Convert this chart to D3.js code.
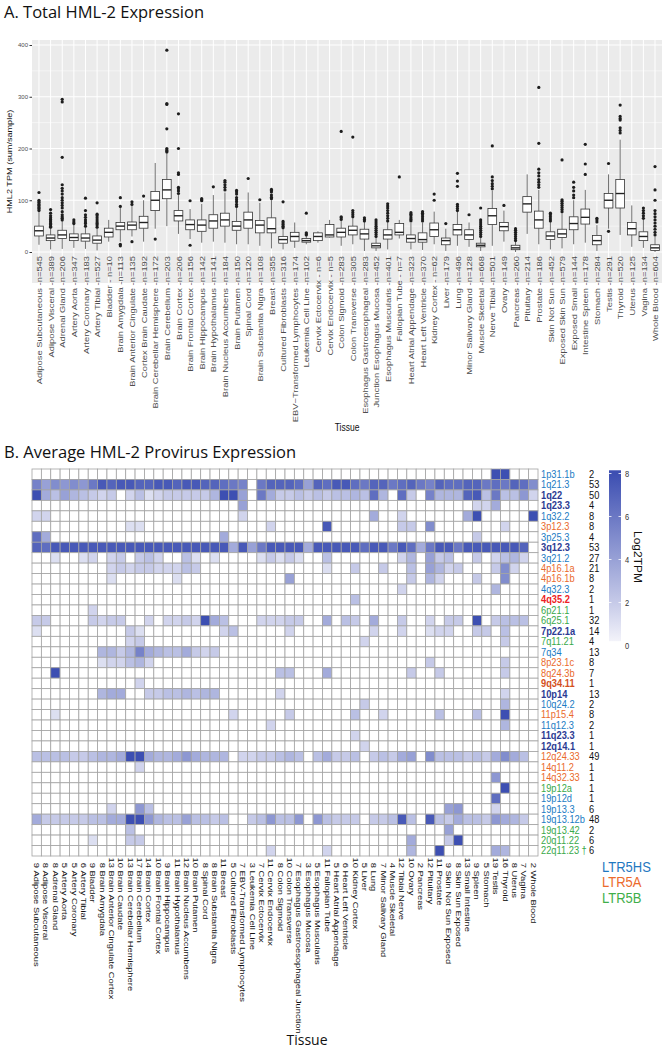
<!DOCTYPE html>
<html>
<head>
<meta charset="utf-8">
<script src="https://cdn.jsdelivr.net/npm/d3@7/dist/d3.min.js"></script>
<style>
  html, body { margin: 0; padding: 0; background: #ffffff; }
  svg { display: block; }
</style>
</head>
<body>
<script>
// ====================== DATA ======================
const tissues = ["Adipose Subcutaneous","Adipose Visceral","Adrenal Gland","Artery Aorta","Artery Coronary","Artery Tibial","Bladder","Brain Amygdala","Brain Anterior Cingulate Cortex","Brain Caudate","Brain Cerebellar Hemisphere","Brain Cerebellum","Brain Cortex","Brain Frontal Cortex","Brain Hippocampus","Brain Hypothalamus","Brain Nucleus Accumbens","Brain Putamen","Spinal Cord","Brain Substantia Nigra","Breast","Cultured Fibroblasts","EBV-Transformed Lymphocytes","Leukemia Cell Line","Cervix Ectocervix","Cervix Endocervix","Colon Sigmoid","Colon Transverse","Esophagus Gastroesophageal Junction","Esophagus Mucosa","Esophagus Muscularis","Fallopian Tube","Heart Atrial Appendage","Heart Left Ventricle","Kidney Cortex","Liver","Lung","Minor Salivary Gland","Muscle Skeletal","Tibial Nerve","Ovary","Pancreas","Pituitary","Prostate","Skin Not Sun Exposed","Skin Sun Exposed","Small Intestine","Spleen","Stomach","Testis","Thyroid","Uterus","Vagina","Whole Blood"];

const tissueAxisLabels = ["Adipose Subcutaneous -n=545","Adipose Visceral -n=389","Adrenal Gland -n=206","Artery Aorta -n=347","Artery Coronary -n=183","Artery Tibial -n=527","Bladder - n=10","Brain Amygdala -n=113","Brain Anterior Cingulate -n=135","Cortex Brain Caudate -n=192","Brain Cerebellar Hemisphere -n=172","Brain Cerebellum -n=203","Brain Cortex -n=206","Brain Frontal Cortex -n=156","Brain Hippocampus -n=142","Brain Hypothalamus -n=141","Brain Nucleus Accumbens -n=184","Brain Putamen -n=150","Spinal Cord -n=120","Brain Substantia Nigra -n=108","Breast -n=355","Cultured Fibroblasts -n=316","EBV\u2212Transformed Lymphocytes -n=174","Leukemia Cell Line -n=102","Cervix Ectocervix - n=6","Cervix Endocervix - n=5","Colon Sigmoid -n=283","Colon Transverse -n=305","Esophagus Gastroesophageal -n=283","Junction Esophagus Mucosa -n=452","Esophagus Muscularis -n=401","Fallopian Tube - n=7","Heart Atrial Appendage -n=323","Heart Left Ventricle -n=370","Kidney Cortex - n=62","Liver -n=179","Lung -n=496","Minor Salivary Gland -n=128","Muscle Skeletal -n=668","Nerve Tibial -n=501","Ovary -n=149","Pancreas -n=260","Pituitary -n=214","Prostate -n=186","Skin Not Sun -n=452","Exposed Skin Sun -n=579","Exposed Small -n=144","Intestine Spleen -n=178","Stomach -n=284","Testis -n=291","Thyroid -n=520","Uterus -n=125","Vagina -n=134","Whole Blood -n=604"];

// Boxplot statistics (HML2 TPM sum/sample)
const whiskerLow  = [14,5,6,8,6,3,20,20,30,20,45,50,35,25,18,20,18,15,15,12,7,5,8,15,18,28,12,15,2,2,5,26,5,4,15,2,12,10,2,12,20,0,35,15,5,7,15,18,2,45,33,10,8,0];
const q1          = [31,22,26,22,21,17,29,43,43,46,80,103,60,43,40,46,50,42,46,37,37,17,21,19,22,29,29,33,25,8,25,33,19,19,30,14,33,24,10,53,41,4.5,77,46,24,28,43,54,14,85,85,33,22,3];
const median      = [41,27,33,28,27,23,38,50,52,57,100,120,70,53,52,60,62,50,62,52,45,24,30,22,30,33,38,42,35,12,33,38,26,24,43,22,43,33,13,70,49,8,93,62,31,35,55,67,22,100,113,45,30,8];
const q3          = [50,33,42,35,35,31,46,57,58,69,117,140,80,62,62,72,75,59,77,61,66,30,38,26,37,53,46,50,44,17,43,55,33,37,56,27,53,43,17,84,57,13,107,79,39,44,68,83,32,113,140,57,39,14];
const whiskerHigh = [77,47,60,53,48,46,62,85,90,100,172,190,110,83,93,110,115,85,115,95,100,45,57,32,40,62,60,65,58,28,58,62,56,57,78,45,78,57,28,118,80,20,150,120,58,75,100,120,52,150,217,90,62,30];
const outliers = [
  [80,83,85,87,90,92,95,97,100,115],
  [48,50,53,55,58,60,63,66,70,75,82],
  [62,65,68,72,78,85,90,95,100,105,112,118,123,130,183,290,295],
  [55,58,62],
  [50,55,58,62,67,72,80,104],
  [48,52,55,58,62,66,70,73,95],
  [],
  [88,105,12,15],
  [92,97,20],
  [108],
  [25],
  [193,195,197,200,238,285,287,390],
  [113,118,122,125,150,153,200,267],
  [99,13],
  [99,101,103],
  [126],
  [120,125,130,135,138],
  [88,92,97,101,105,112,116,119],
  [142],
  [101],
  [103,106,110,116,119,121],
  [47,50,53,56,59,97],
  [],
  [33,35,37,75],
  [],
  [],
  [63,66,68,233],
  [68,72,76,80,222],
  [60,63,66],
  [30,34,38,42,46,50,54,58,62],
  [60,65,70,75,80,85,89,93],
  [145],
  [60,63,66,70,73,76],
  [60,64,68,72,75,78],
  [100,112],
  [55],
  [80,84,88,92,127,137,152],
  [72],
  [30,34,38,42,46,50,54,58,62,85],
  [122,127,132,138,145,205],
  [90],
  [22,26,30,34,38,42,45],
  [],
  [125,130,135,140,147,153,160,210,318],
  [60,64,68,72,75],
  [78,82,86,90,94,98,101,178],
  [105,110,118,125,135],
  [150,170,208],
  [58,62,65],
  [171,40],
  [230,235,240,255,258,262,284],
  [],
  [65,70,75,80,85],
  [33,38,44,50,56,62,68,74,80,100,120,165]
];
const yTicksA = [0, 100, 200, 300, 400];
const yMinorA = [50, 150, 250, 350];

// Heatmap
const proviruses = ["1p31.1b","1q21.3","1q22","1q23.3","1q32.2","3p12.3","3p25.3","3q12.3","3q21.2","4p16.1a","4p16.1b","4q32.3","4q35.2","6p21.1","6q25.1","7p22.1a","7q11.21","7q34","8p23.1c","8q24.3b","9q34.11","10p14","10q24.2","11p15.4","11q12.3","11q23.3","12q14.1","12q24.33","14q11.2","14q32.33","19p12a","19p12d","19p13.3","19q13.12b","19q13.42","20q11.22","22q11.23"];
const provirusGroups = ["HS","HS","HSb","HSb","HS","A","HS","HSb","HS","A","A","HS","Ar","B","B","HSb","B","HS","A","A","Ab","HSb","HS","A","HS","HSb","HSb","A","A","A","B","HS","HS","HS","B","B","B"];
const provirusTissueCounts = [2,53,50,4,8,8,4,53,27,21,8,2,1,1,32,14,4,13,8,7,1,13,2,8,2,1,1,49,1,1,1,1,6,48,2,6,6];
const tissueProvirusCounts = [9,8,8,5,5,6,9,8,13,10,13,17,14,10,9,11,12,10,8,8,11,5,7,3,7,11,8,10,7,3,5,11,5,6,10,5,8,7,4,12,10,2,12,11,9,8,13,9,5,19,16,8,7,2];
// log2 TPM, 0 = not expressed (rows = proviruses, columns = tissues)
const heatValues = [
 [0,0,0,0,0,0,0,0,0, 0,0,0,0,0,0,0,0,0, 0,0,0,0,0,0,0,0,0, 0,0,0,0,0,0,0,0,0, 0,0,0,0,0,0,0,0,0, 0,0,0,0,8,8,0,0,0],
 [5.5,4,5,4.5,5,4.5,6,7.5,7, 7.5,7.5,7,7,7.5,7.5,7,7.5,7.5, 7,7,6.5,6,5.5,0,6,7,7, 7,6.5,4,7,6.5,7.5,7.5,6.5,6, 7,7,6,6.5,7,6,5.5,7,6.5, 6.5,7,7,6,6.5,6,7,6.5,5],
 [8,3.5,2.5,4,3,2.5,2,1.5,2, 0,1.5,2.5,1,1.5,2,2,2,2, 2,3,8,8,4,0,6,3.5,2, 2,2.5,2,2.5,2,2.5,2.5,3,2.5, 6.5,3,0,6.5,2,0,5.5,3,3, 3,7,7.5,2.5,6,2.5,2.5,4.5,1.5],
 [0,0,0,0,0,0,0,0,0, 0,0,0,0,0,0,0,0,0, 0,0,0,0,4,0,0,0,0, 0,0,0,0,0,0,0,0,0, 0,0,0,0,0,0,0,0,0, 0,0,1.5,1.5,3.5,0,0,0,0],
 [1.5,1.5,0,0,0,0,0,0,0, 0,0,0,0,0,0,0,0,0, 0,0,0,0,1.5,0,0,0,0, 0,0,0,0,0,0,0,0,0, 3.5,0,0,1.5,0,0,0,0,0, 0,3.5,8,0,0,0,0,0,8],
 [0,0,0,0,0,0,0,0,0, 0,1,1,0,0,0,0,0,0, 0,0,0,0,0,0,0,1.5,0, 0,0,0,0,7.5,0,0,0,0, 0,0,0,2,2,0,5,0,0, 0,0,0,0,0,1.5,0,0,0],
 [6.5,3.5,0,0,0,0,0,0,0, 0,0,0,0,0,0,0,0,0, 0,0,3.5,0,0,0,0,0,0, 0,0,0,0,0,0,0,0,0, 0,0,0,0,0,0,0,0,0, 0,0,2,0,0,0,0,0,0],
 [7,6.5,7.5,7.5,7.5,7.5,7.5,7.5,7.5, 7.5,7.5,7.5,7.5,7.5,7.5,7.5,7.5,7.5, 7.5,7.5,7.5,3.5,7.5,4,6,7.5,7.5, 7.5,7.5,3.5,7.5,7.5,7.5,7.5,7.5,6.5, 7.5,7.5,6,7.5,6.5,3.5,6,7.5,7.5, 6,7.5,7.5,7.5,7.5,7.5,7.5,7,0],
 [0,0,1,0,0,1,1.5,0,1.5, 2,0,2,2.5,1.5,0,0,2.5,1, 0,1,0,0,0,0,1,2,1, 2,1,0,0,2.5,0,0,0,0, 0,0,0,1.5,3,0,4,2,2.5, 0,0,2,0,1.5,2.5,3,1.5,0],
 [0,0,0,0,0,0,0,0,1.5, 2,1.5,2,2,1.5,1.5,1.5,2.5,2, 0,0,0,0,0,0,0,0,0, 0,0,0,0,1,0,0,2,0, 0,2,0,0,2.5,0,4,3,1.5, 2,0,0,0,2,5,1.5,0,0],
 [0,0,0,0,0,0,0,0,1, 0,0,0,0,0,0,1,0,0, 0,0,0,0,0,0,0,0,0, 4,0,0,0,0,0,0,0,0, 0,0,0,0,2,0,3,1.5,0, 0,0,2,0,0,5,0,0,0],
 [0,0,0,0,0,0,0,0,0, 0,0,0,0,0,0,0,0,0, 0,0,0,0,0,0,0,0,0, 0,0,0,0,0,0,0,0,0, 0,0,0,1.5,0,0,0,0,0, 0,0,0,0,3,0,0,0,0],
 [0,0,0,0,0,0,0,0,0, 0,0,0,0,0,0,0,0,0, 0,0,0,0,0,0,0,0,0, 0,0,0,0,0,0,0,2.5,0, 0,0,0,0,0,0,0,0,0, 0,0,0,0,0,0,0,0,0],
 [0,0,0,0,0,0,1.5,0,0, 0,0,0,0,0,0,0,0,0, 0,0,0,0,0,0,0,0,0, 0,0,0,0,0,0,0,0,0, 0,0,0,0,0,0,0,0,0, 0,0,0,0,0,0,0,0,0],
 [2,2,0,0,0,0,2,1.5,2, 2,0,0,1.5,0,1.5,1.5,2,1.5, 8,3.5,2.5,0,0,0,1.5,1.5,1.5, 2,2,0,0,3.5,0,2.5,2,0, 3.5,0,0,2,0,0,1.5,0,2, 2,0,8,0,2,2.5,2.5,2.5,0],
 [1,0,0,0,0,0,0,0,0, 0,2,1,0,0,0,0,0,0, 0,0,1.5,2.5,0,0,0,0,0, 1.5,0,0,0,0,0,0,0,0, 1.5,0,0,1.5,0,0,1,1.5,1.5, 0,0,2,2,0,2.5,0,0,0],
 [0,0,0,0,0,0,0,0,0, 0,1.5,2,0,0,0,0,0,0, 0,0,0,0,0,0,0,0,0, 0,0,0,0,0,0,0,0,1.5, 0,0,0,0,0,0,0,0,0, 0,0,0,0,0,2,0,0,0],
 [0,0,0,0,0,0,0,3,3, 2,3,5.5,3.5,3,2.5,2.5,3.5,2, 1.5,2,0,0,0,0,0,0,0, 0,0,0,0,0,0,0,0,0, 0,0,0,0,0,0,0,0,0, 0,0,0,0,0,0,0,0,0],
 [0,0,0,0,0,0,0,1,1.5, 1.5,2.5,3,1.5,0,0,0,0,0, 0,0,0,0,0,0,0,0,0, 0,0,0,0,0,0,0,0,0, 0,0,0,0,0,0,2,0,0, 0,0,0,0,0,2,0,0,0],
 [0,0,8,0,0,0,0,0,0, 0,0,0,0,0,0,0,0,0, 0,0,0,0,0,0,0,0,2.5, 2.5,0,0,0,3.5,0,0,0,0, 0,0,0,0,2,0,0,2,0, 0,0,0,0,0,2,0,0,0],
 [0,0,0,0,0,0,0,0,0, 0,0,1.5,0,0,0,0,0,0, 0,0,0,0,0,0,0,0,0, 0,0,0,0,0,0,0,0,0, 0,0,0,0,0,0,0,0,0, 0,0,0,0,0,0,0,0,0],
 [0,0,0,0,0,0,0,3,3.5, 3.5,0,0,2,2,2.5,2.5,3,2.5, 3,3,0,0,0,0,0,0,1.5, 0,0,0,0,0,0,0,0,0, 0,0,0,0,0,0,0,0,0, 0,0,0,0,0,1.5,0,0,0],
 [0,0,0,0,0,0,0,0,0, 0,0,0,0,0,0,0,0,0, 0,0,0,0,0,0,0,0,0, 0,0,0,0,0,0,0,0,2, 0,0,0,0,0,0,0,0,0, 0,0,0,0,0,3,0,0,0],
 [0,0,1,0,0,0,0,0,0, 0,0,0,0,0,0,0,0,0, 0,0,0,1.5,0,0,0,0,0, 2,0,0,0,0,0,0,2.5,0, 0,1.5,0,0,0,0,0,2.5,0, 0,0,2.5,0,0,8,0,0,0],
 [0,0,0,0,0,0,0,0,0, 0,0,0,0,0,0,0,0,0, 0,0,0,0,0,0,0,1.5,0, 0,0,0,0,0,0,0,0,0, 0,0,0,0,0,0,0,0,0, 0,0,0,0,0,3,0,0,0],
 [0,0,0,0,0,0,0,0,0, 0,0,0,0,0,0,0,0,0, 0,0,0,0,0,0,0,0,0, 0,0,0,0,0,0,0,1.5,0, 0,0,0,0,0,0,0,0,0, 0,0,0,0,0,0,0,0,0],
 [0,0,0,0,0,0,0,0,0, 0,0,0,0,0,0,0,0,0, 0,0,0,0,0,0,0,0,0, 0,0,0,0,0,0,0,0,1.5, 0,0,0,0,0,0,0,0,0, 0,0,0,0,0,0,0,0,0],
 [2.5,2.5,2.5,2.5,2,2,2.5,3,3, 3.5,8,8,3.5,3,3,3.5,4.5,3.5, 3,3,3,0,1.5,1.5,2,2,2.5, 3,2.5,0,2.5,3.5,2,2,2.5,0, 2,2.5,2,3.5,4,0,5,2.5,2.5, 2.5,2,2.5,2,3.5,5,3.5,2.5,0],
 [0,0,0,0,0,0,0,0,0, 0,0,1.5,0,0,0,0,0,0, 0,0,0,0,0,0,0,0,0, 0,0,0,0,0,0,0,0,0, 0,0,0,0,0,0,0,0,0, 0,0,0,0,0,0,0,0,0],
 [0,0,0,0,0,0,0,0,0, 0,0,0,0,0,0,0,0,0, 0,0,0,0,0,0,0,0,0, 0,0,0,0,0,0,0,0,0, 0,0,0,0,0,0,0,0,0, 0,0,0,0,4.5,0,0,0,0],
 [0,0,0,0,0,0,0,0,0, 0,0,0,0,0,0,0,0,0, 0,0,0,0,0,0,0,0,0, 0,0,0,0,0,0,0,0,0, 0,0,0,0,0,0,0,0,0, 0,0,0,0,0,8,0,0,0],
 [0,0,0,0,0,0,0,0,0, 0,0,0,0,0,0,0,0,0, 0,0,0,0,0,0,0,0,0, 0,0,0,0,0,0,0,0,0, 0,0,0,0,0,0,0,0,0, 0,0,0,0,6.5,0,0,0,0],
 [0,0,0,0,0,0,0,0,1.5, 0,0,4.5,2.5,0,0,0,0,0, 0,0,0,0,0,0,0,0,0, 0,0,0,0,0,0,0,0,0, 0,0,0,0,0,0,0,0,4, 4.5,0,0,0,1.5,0,0,0,0],
 [3.5,2,2,2,2,2,2.5,2.5,3.5, 3.5,8,8,4.5,3,2.5,2.5,4,2.5, 2.5,2,2.5,0,0,2,2.5,4.5,2.5, 2.5,4.5,0,4.5,2.5,2,2,2,0, 2,2,2.5,7.5,2.5,0,7.5,2.5,2, 3.5,2.5,2.5,2,4.5,3.5,3,2,0],
 [0,0,0,0,0,0,0,0,0, 0,2.5,0,0,0,0,0,0,0, 0,0,0,0,0,0,0,0,0, 0,0,0,0,0,0,0,0,0, 0,0,0,0,0,0,0,0,4, 0,0,0,0,0,0,0,0,0],
 [0,0,0,0,0,0,1,0,0, 0,2,2,0,0,0,0,0,0, 0,0,0,0,0,0,0,0,0, 0,0,0,0,0,0,0,0,0, 0,0,0,0,3.5,0,0,0,2, 8,0,0,0,0,0,0,0,0],
 [0,0,0,0,0,0,0,0,0, 0,0,0,0,0,0,0,0,0, 0,0,0,0,0,0,0,1.5,0, 0,0,0,0,1.5,0,0,0,0, 0,0,0,0,3,0,0,8,0, 0,0,0,0,3.5,3,0,0,0]
];
const legendTicks = [0, 2, 4, 6, 8];
const ltrFamilies = ["LTR5HS", "LTR5A", "LTR5B"];

// ====================== STYLE ======================
const SANS = "'Liberation Sans', Arial, Helvetica, sans-serif";
const TITLE = "'Open Sans', 'Noto Sans', sans-serif";
const STRETCH = 1.25;
const ROW_STRETCH = 1.12;
const groupStyle = {
  HS:  { fill: "#1b7cc4", weight: "normal" },
  HSb: { fill: "#2c3b93", weight: "bold" },
  A:   { fill: "#ea6a2c", weight: "normal" },
  Ab:  { fill: "#d4501c", weight: "bold" },
  Ar:  { fill: "#ee1d25", weight: "bold" },
  B:   { fill: "#39a94a", weight: "normal" }
};
const ltrColors = ["#1f78c1", "#ec6a2c", "#3fae49"];

const svg = d3.select("body").append("svg").attr("width", 663).attr("height", 1049);

// ====================== PANEL A ======================
svg.append("text").attr("x", 4).attr("y", 17.8)
  .style("font-family", TITLE).style("font-size", "16.5px").attr("fill", "#111")
  .text("A. Total HML-2 Expression");

const pA = { left: 32, right: 662, top: 40, bottom: 283 };
const xA = d3.scalePoint().domain(d3.range(tissues.length)).range([pA.left, pA.right]).padding(0.6);
const yA = d3.scaleLinear().domain([0, 400]).range([252, 45]);
const gA = svg.append("g");

gA.append("rect").attr("x", pA.left).attr("y", pA.top)
  .attr("width", pA.right - pA.left).attr("height", pA.bottom - pA.top).attr("fill", "#EBEBEB");
gA.selectAll("line.minor").data(yMinorA).join("line").attr("class", "minor")
  .attr("x1", pA.left).attr("x2", pA.right).attr("y1", d => yA(d)).attr("y2", d => yA(d))
  .attr("stroke", "#fff").attr("stroke-width", 0.5);
gA.selectAll("line.major").data(yTicksA).join("line").attr("class", "major")
  .attr("x1", pA.left).attr("x2", pA.right).attr("y1", d => yA(d)).attr("y2", d => yA(d))
  .attr("stroke", "#fff").attr("stroke-width", 1);
gA.selectAll("line.vmajor").data(xA.domain()).join("line").attr("class", "vmajor")
  .attr("x1", d => xA(d)).attr("x2", d => xA(d)).attr("y1", pA.top).attr("y2", pA.bottom)
  .attr("stroke", "#fff").attr("stroke-width", 1);

const boxW = xA.step() * 0.75;
const boxes = gA.selectAll("g.box").data(xA.domain()).join("g").attr("class", "box");
boxes.append("line").attr("x1", d => xA(d)).attr("x2", d => xA(d))
  .attr("y1", d => yA(whiskerHigh[d])).attr("y2", d => yA(q3[d]))
  .attr("stroke", "#333").attr("stroke-width", 0.7);
boxes.append("line").attr("x1", d => xA(d)).attr("x2", d => xA(d))
  .attr("y1", d => yA(q1[d])).attr("y2", d => yA(whiskerLow[d]))
  .attr("stroke", "#333").attr("stroke-width", 0.7);
boxes.append("rect").attr("x", d => xA(d) - boxW / 2).attr("width", boxW)
  .attr("y", d => yA(q3[d])).attr("height", d => yA(q1[d]) - yA(q3[d]))
  .attr("fill", "#fff").attr("stroke", "#333").attr("stroke-width", 0.8);
boxes.append("line").attr("x1", d => xA(d) - boxW / 2).attr("x2", d => xA(d) + boxW / 2)
  .attr("y1", d => yA(median[d])).attr("y2", d => yA(median[d]))
  .attr("stroke", "#222").attr("stroke-width", 1.4);
boxes.selectAll("circle").data(d => outliers[d].map(v => ({ i: d, v }))).join("circle")
  .attr("cx", o => xA(o.i)).attr("cy", o => yA(o.v)).attr("r", 1.6).attr("fill", "#1e1e1e");

// y axis
const yAxisA = svg.append("g").attr("transform", `translate(${pA.left},0)`)
  .call(d3.axisLeft(yA).tickValues(yTicksA).tickSize(2.5).tickPadding(1.5));
yAxisA.select(".domain").remove();
yAxisA.selectAll(".tick line").attr("stroke", "#333");
yAxisA.selectAll(".tick text").attr("fill", "#4d4d4d").style("font-family", SANS).style("font-size", "6px");

// x axis labels
const xAxisA = svg.append("g").attr("transform", "translate(0,256)")
  .call(d3.axisBottom(xA).tickSize(0).tickFormat(d => tissueAxisLabels[d]));
xAxisA.select(".domain").remove();
xAxisA.selectAll(".tick text")
  .attr("x", 0).attr("y", 0).attr("dy", "0.35em")
  .attr("transform", `scale(1,${STRETCH}) rotate(-90)`)
  .style("text-anchor", "end").attr("fill", "#4d4d4d")
  .style("font-family", SANS).style("font-size", "7.5px");

svg.append("text").attr("transform", `translate(9,161.5) scale(1,${STRETCH}) rotate(-90)`)
  .attr("text-anchor", "middle").attr("dy", "0.35em")
  .style("font-family", SANS).style("font-size", "7.3px").attr("fill", "#111")
  .text("HML2 TPM (sum/sample)");
svg.append("text").attr("transform", `translate(347,431) scale(1,${STRETCH})`)
  .attr("text-anchor", "middle")
  .style("font-family", SANS).style("font-size", "8.5px").attr("fill", "#111")
  .text("Tissue");

// ====================== PANEL B ======================
svg.append("text").attr("x", 4).attr("y", 457.5)
  .style("font-family", TITLE).style("font-size", "16.5px").attr("fill", "#111")
  .text("B. Average HML-2 Provirus Expression");

const xB = d3.scaleBand().domain(d3.range(tissues.length)).range([32, 538]);
const yB = d3.scaleBand().domain(d3.range(proviruses.length)).range([469, 856]);
const colorB = d3.scaleLinear().domain([0, 8]).range(["#f3f3fa", "#3d4fb2"]).clamp(true);

const cells = [];
heatValues.forEach((row, r) => row.forEach((v, c) => cells.push({ r, c, v })));
svg.append("g").selectAll("rect").data(cells).join("rect")
  .attr("x", d => xB(d.c)).attr("y", d => yB(d.r))
  .attr("width", xB.bandwidth()).attr("height", yB.bandwidth())
  .attr("fill", d => d.v > 0 ? colorB(d.v) : "#ffffff")
  .attr("stroke", "#a3a3a3").attr("stroke-width", 0.8);

// row labels
const rowG = svg.append("g");
proviruses.forEach((p, r) => {
  const yc = yB(r) + yB.bandwidth() / 2;
  const st = groupStyle[provirusGroups[r]];
  const t = rowG.append("text").attr("transform", `translate(541,${yc}) scale(1,${ROW_STRETCH})`)
    .attr("dy", "0.35em").style("font-family", SANS).style("font-size", "9.3px")
    .style("font-weight", st.weight).attr("fill", st.fill).text(p);
  if (p === "22q11.23") t.append("tspan").attr("fill", st.fill).text(" \u2020");
  rowG.append("text").attr("transform", `translate(589,${yc}) scale(1,${ROW_STRETCH})`)
    .attr("dy", "0.35em").style("font-family", SANS).style("font-size", "9.3px")
    .attr("fill", "#111").text(provirusTissueCounts[r]);
});

// column labels
const colG = svg.append("g");
tissues.forEach((t, c) => {
  const xc = xB(c) + xB.bandwidth() / 2;
  colG.append("text").attr("transform", `translate(${xc},868) scale(1,${STRETCH}) rotate(90)`)
    .attr("text-anchor", "end").attr("dy", "0.35em")
    .style("font-family", SANS).style("font-size", "7.5px").attr("fill", "#111")
    .text(tissueProvirusCounts[c]);
  colG.append("text").attr("transform", `translate(${xc},870.5) scale(1,${STRETCH}) rotate(90)`)
    .attr("text-anchor", "start").attr("dy", "0.35em")
    .style("font-family", SANS).style("font-size", "7.5px").attr("fill", "#111")
    .text(t);
});

svg.append("text").attr("x", 307).attr("y", 1045).attr("text-anchor", "middle")
  .style("font-family", TITLE).style("font-size", "14px").attr("fill", "#111").text("Tissue");

// colour legend
const yLeg = d3.scaleLinear().domain([0, 8]).range([645.5, 473.5]);
const defs = svg.append("defs");
const grad = defs.append("linearGradient").attr("id", "legGrad")
  .attr("x1", 0).attr("y1", 1).attr("x2", 0).attr("y2", 0);
const barTop = yLeg(8.15), barBot = yLeg(0.2);
legendTicks.forEach(v => {
  grad.append("stop").attr("offset", (barBot - yLeg(v)) / (barBot - barTop)).attr("stop-color", colorB(v));
});
svg.append("rect").attr("x", 609).attr("y", barTop).attr("width", 12).attr("height", barBot - barTop)
  .attr("fill", "url(#legGrad)");
legendTicks.forEach(v => {
  svg.append("line").attr("x1", 609).attr("x2", 611.5).attr("y1", yLeg(v)).attr("y2", yLeg(v))
    .attr("stroke", "#fff").attr("stroke-width", 0.8);
  svg.append("line").attr("x1", 618.5).attr("x2", 621).attr("y1", yLeg(v)).attr("y2", yLeg(v))
    .attr("stroke", "#fff").attr("stroke-width", 0.8);
  svg.append("text").attr("transform", `translate(625,${yLeg(v)}) scale(1,${STRETCH})`)
    .attr("dy", "0.35em").style("font-family", SANS).style("font-size", "7.5px")
    .attr("fill", "#333").text(v);
});
svg.append("text").attr("transform", `translate(638,557) scale(1,1.2) rotate(90)`)
  .attr("text-anchor", "middle").attr("dy", "0.35em")
  .style("font-family", SANS).style("font-size", "10px").attr("fill", "#111").text("Log2TPM");

// LTR family legend
ltrFamilies.forEach((f, i) => {
  svg.append("text").attr("transform", `translate(602,${871.5 + i * 15.7}) scale(1,1.08)`)
    .style("font-family", SANS).style("font-size", "13px").attr("fill", ltrColors[i]).text(f);
});
</script>
</body>
</html>
